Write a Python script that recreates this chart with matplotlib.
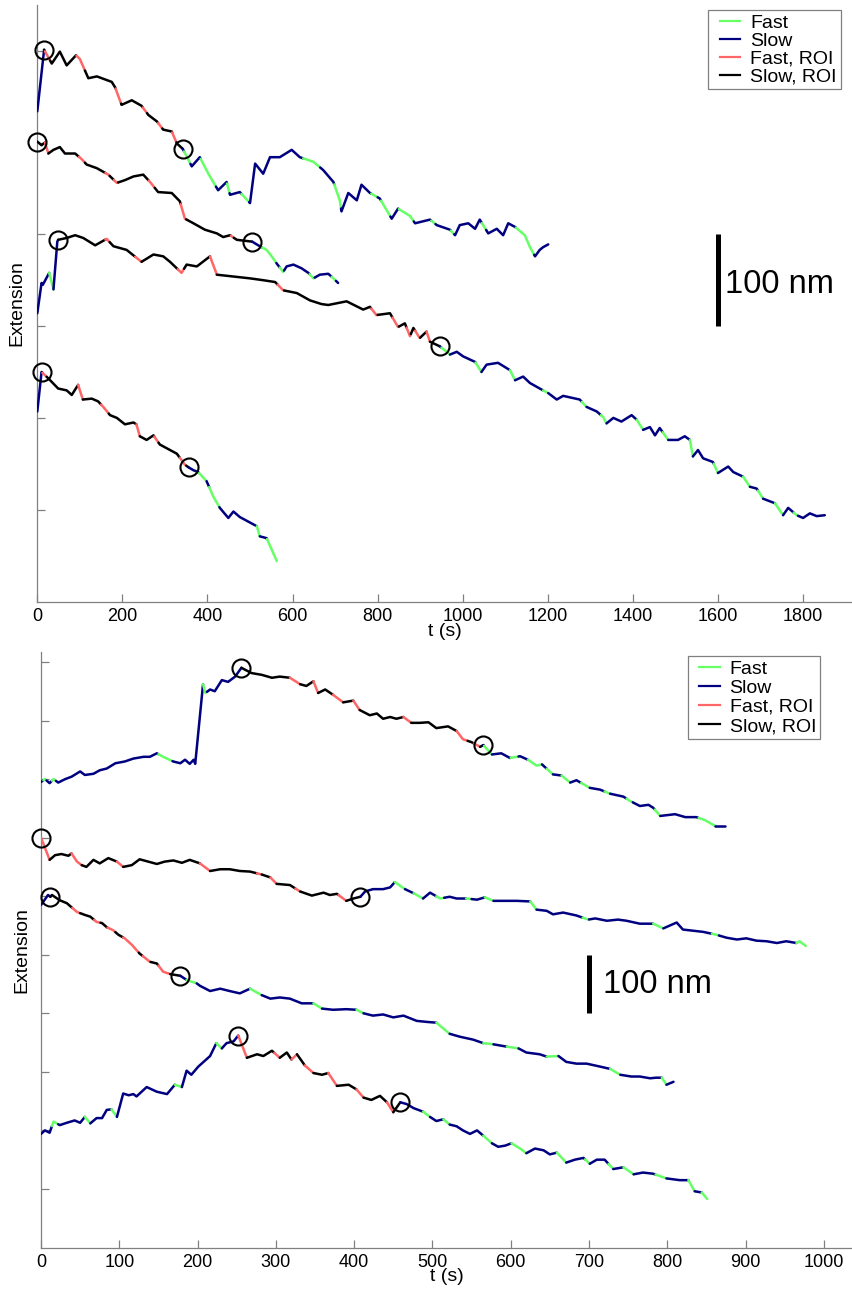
import numpy as np
import matplotlib
matplotlib.use('Agg')
import matplotlib.pyplot as plt
from matplotlib.lines import Line2D
from matplotlib.legend_handler import HandlerLine2D

plt.rcParams['font.family'] = ['Liberation Sans', 'DejaVu Sans']

# ---------------- colours / legend ----------------
CLASS_LABELS = ['Slow', 'Fast', 'Slow, ROI', 'Fast, ROI']
CLASS_COLORS = ['#000080', '#66FF66', '#000000', '#FF6666']
LEGEND_ORDER = ['Fast', 'Slow', 'Fast, ROI', 'Slow, ROI']

# ---------------- top panel data (t in s, extension in nm) ----------------
A_t = [0, 16, 34, 53, 69, 91, 100, 120, 140, 175, 183, 198, 222, 245, 261, 281, 296, 316, 328, 342,
       363, 382, 402, 425, 445, 453, 476, 500, 512, 531, 547, 570, 598, 617, 649, 672, 696, 711, 715, 731,
       751, 762, 782, 805, 833, 848, 876, 888, 923, 939, 970, 982, 993, 1013, 1029, 1040, 1060, 1080, 1095, 1107,
       1123, 1146, 1158, 1170, 1181, 1189, 1201]
A_v = [534, 601, 586, 599, 584, 595, 591, 570, 572, 566, 560, 541, 546, 540, 530, 523, 514, 512, 499, 493,
       474, 484, 466, 448, 457, 443, 446, 434, 477, 466, 484, 484, 492, 484, 479, 470, 457, 437, 425, 445,
       437, 454, 445, 439, 417, 428, 420, 412, 416, 410, 405, 399, 410, 412, 406, 416, 401, 406, 399, 412,
       408, 399, 386, 376, 383, 386, 389]
A_roi = (16, 342)
A_fast = [(18, 30), (92, 112), (184, 197), (248, 258), (284, 294), (317, 327), (345, 360), (384, 420),
          (446, 452), (480, 498), (625, 665), (698, 714), (785, 800), (808, 830), (850, 885), (926, 936),
          (972, 980), (1045, 1055), (1125, 1168)]

B_t = [0, 10, 18, 26, 38, 53, 65, 89, 104, 116, 140, 167, 187, 206, 226, 249, 265, 284, 316, 335,
       347, 367, 394, 422, 437, 453, 469, 505, 523, 539, 551, 563, 578, 586, 602, 621, 637, 649, 664, 684,
       696, 707]
B_v = [501, 497, 500, 488, 492, 495, 488, 488, 482, 476, 472, 465, 456, 459, 463, 465, 457, 446, 445, 436,
       417, 412, 405, 401, 397, 399, 394, 392, 387, 383, 376, 368, 359, 365, 367, 363, 358, 352, 356, 357,
       352, 347]
B_roi = (0, 505)
B_fast = [(18, 26), (98, 112), (160, 170), (180, 190), (262, 276), (337, 350), (455, 462), (528, 562),
          (570, 580), (640, 652), (692, 702)]

C_t = [0, 10, 13, 28, 38, 47, 49, 69, 89, 108, 136, 163, 179, 210, 245, 273, 296, 312, 339, 351,
       375, 406, 422, 461, 500, 531, 559, 578, 610, 641, 668, 684, 727, 766, 782, 797, 829, 848, 864, 876,
       884, 899, 915, 923, 946, 970, 986, 1001, 1029, 1044, 1056, 1083, 1111, 1123, 1142, 1158, 1181, 1201, 1221, 1236,
       1275, 1291, 1315, 1330, 1338, 1354, 1373, 1397, 1409, 1424, 1440, 1452, 1463, 1483, 1506, 1522, 1534, 1541, 1553, 1565,
       1588, 1600, 1624, 1636, 1659, 1675, 1691, 1706, 1734, 1753, 1765, 1785, 1800, 1816, 1832, 1851]
C_v = [314, 347, 345, 358, 340, 392, 394, 396, 399, 396, 388, 395, 387, 383, 370, 378, 376, 370, 358, 367,
       365, 376, 356, 354, 352, 350, 348, 339, 336, 328, 324, 323, 327, 318, 321, 312, 314, 299, 303, 289,
       298, 287, 294, 283, 278, 269, 272, 267, 261, 250, 258, 260, 252, 241, 245, 238, 232, 227, 220, 224,
       220, 212, 207, 201, 194, 200, 196, 203, 198, 187, 190, 181, 189, 176, 176, 180, 176, 158, 165, 156,
       152, 140, 147, 141, 136, 125, 123, 112, 107, 94, 102, 94, 91, 96, 93, 94]
C_roi = (49, 946)
C_fast = [(28, 38), (160, 170), (230, 245), (330, 345), (406, 422), (565, 580), (785, 800), (835, 850),
          (868, 878), (888, 900), (915, 923), (950, 970), (1030, 1044), (1111, 1123), (1189, 1201),
          (1280, 1291), (1325, 1338), (1409, 1424), (1470, 1483), (1534, 1541), (1590, 1600), (1659, 1675),
          (1694, 1706), (1734, 1753), (1778, 1788)]

D_t = [0, 10, 26, 49, 69, 81, 96, 107, 128, 143, 155, 171, 187, 206, 226, 233, 241, 257, 273, 288,
       312, 328, 347, 356, 367, 378, 398, 414, 429, 449, 461, 476, 500, 516, 523, 539, 563]
D_v = [207, 250, 243, 232, 230, 225, 236, 220, 221, 218, 212, 203, 200, 193, 195, 193, 180, 176, 181, 171,
       165, 161, 149, 146, 143, 141, 131, 114, 102, 91, 98, 92, 86, 82, 71, 69, 44]
D_roi = (11, 356)
D_fast = [(12, 22), (96, 107), (150, 168), (233, 241), (275, 285), (335, 350), (380, 398), (404, 428),
          (516, 523), (540, 563)]

# ---------------- bottom panel data ----------------
E_t = [0, 5, 11, 16, 22, 31, 39, 50, 56, 67, 75, 84, 95, 107, 118, 131, 139, 148, 156, 169,
       178, 184, 190, 195, 197, 207, 210, 216, 222, 231, 239, 248, 256, 269, 282, 295, 305, 318, 331, 339,
       348, 354, 363, 373, 386, 399, 407, 420, 429, 437, 446, 454, 463, 473, 484, 495, 505, 520, 531, 539,
       550, 561, 565, 576, 588, 599, 612, 622, 633, 640, 654, 665, 676, 684, 701, 714, 727, 744, 752, 765,
       776, 782, 791, 810, 823, 837, 848, 861, 874]
E_v = [795, 800, 793, 800, 794, 800, 804, 813, 807, 809, 815, 818, 827, 830, 835, 838, 838, 844, 838, 830,
       827, 833, 826, 833, 826, 962, 947, 953, 950, 969, 966, 975, 990, 981, 978, 973, 975, 973, 962, 959,
       967, 947, 953, 944, 931, 934, 918, 909, 912, 903, 906, 903, 906, 896, 896, 897, 887, 890, 882, 868,
       863, 855, 858, 842, 844, 836, 839, 833, 823, 825, 808, 806, 794, 798, 785, 782, 775, 770, 763, 754,
       756, 751, 737, 740, 735, 735, 730, 720, 720]
E_roi = (256, 565)
E_fast = [(3, 7), (14, 19), (150, 168), (207, 212), (318, 331), (348, 354), (373, 386), (399, 407),
          (463, 473), (531, 545), (553, 561), (566, 576), (600, 610), (622, 640), (646, 654), (665, 676),
          (690, 701), (720, 727), (748, 756), (784, 791), (840, 861)]

F_t = [0, 11, 18, 26, 35, 39, 46, 52, 58, 67, 75, 86, 97, 105, 116, 126, 137, 148, 158, 169,
       180, 190, 203, 216, 229, 241, 254, 267, 282, 293, 301, 318, 331, 346, 361, 369, 378, 390, 399, 408,
       414, 424, 437, 446, 452, 465, 476, 488, 497, 510, 522, 531, 544, 557, 567, 578, 599, 608, 625, 633,
       646, 654, 667, 684, 699, 708, 723, 737, 748, 765, 782, 795, 812, 820, 833, 846, 863, 876, 889, 901,
       914, 927, 940, 952, 965, 969, 977]
F_v = [700, 662, 670, 672, 669, 673, 659, 653, 650, 662, 656, 665, 659, 650, 653, 663, 659, 655, 659, 661,
       657, 662, 656, 643, 646, 646, 643, 642, 637, 632, 621, 619, 608, 601, 606, 602, 604, 592, 596, 599,
       608, 612, 612, 615, 624, 612, 605, 596, 606, 596, 599, 596, 596, 594, 598, 592, 592, 592, 591, 577,
       575, 569, 572, 567, 560, 562, 558, 560, 558, 553, 553, 545, 555, 543, 541, 539, 534, 529, 526, 528,
       524, 523, 520, 523, 520, 523, 515]
F_roi = (0, 408)
F_fast = [(0, 11), (39, 52), (97, 105), (203, 216), (276, 282), (293, 301), (325, 331), (380, 390),
          (452, 465), (476, 488), (505, 515), (543, 550), (567, 578), (625, 633), (692, 700), (782, 795),
          (857, 866), (965, 977)]

G_t = [0, 9, 12, 14, 24, 33, 46, 56, 63, 71, 78, 84, 92, 99, 107, 116, 126, 139, 148, 156,
       165, 178, 186, 199, 203, 216, 229, 241, 254, 267, 282, 293, 305, 318, 333, 348, 359, 373, 390, 403,
       412, 424, 437, 450, 463, 480, 495, 505, 522, 535, 552, 565, 578, 595, 610, 620, 637, 646, 661, 671,
       684, 697, 714, 727, 740, 754, 765, 778, 786, 793, 799, 808]
G_v = [585, 602, 599, 602, 593, 588, 573, 568, 565, 556, 554, 547, 542, 534, 528, 517, 502, 488, 485, 471,
       467, 464, 457, 451, 447, 438, 442, 438, 434, 442, 431, 425, 427, 425, 417, 417, 408, 406, 407, 406,
       400, 396, 398, 393, 396, 387, 385, 384, 365, 360, 355, 349, 347, 343, 340, 333, 330, 326, 327, 317,
       314, 314, 309, 305, 295, 292, 292, 289, 290, 290, 278, 283]
G_roi = (12, 178)
G_fast = [(40, 50), (68, 76), (85, 95), (105, 125), (130, 140), (150, 165), (186, 199), (267, 282),
          (348, 359), (403, 412), (505, 522), (565, 578), (595, 610), (646, 661), (727, 740), (793, 799)]

H_t = [0, 5, 11, 16, 24, 33, 43, 50, 56, 63, 71, 78, 84, 90, 97, 105, 112, 118, 122, 135,
       148, 161, 171, 180, 186, 192, 201, 216, 224, 231, 237, 246, 252, 263, 276, 284, 295, 305, 314, 320,
       327, 337, 348, 359, 367, 378, 393, 403, 412, 422, 433, 442, 450, 459, 467, 476, 488, 497, 505, 514,
       522, 531, 539, 548, 557, 565, 576, 584, 593, 601, 612, 620, 631, 642, 650, 659, 671, 682, 693, 701,
       710, 720, 731, 744, 757, 769, 782, 799, 816, 827, 835, 844, 851]
H_v = [194, 200, 196, 215, 209, 213, 217, 213, 223, 212, 221, 221, 235, 236, 223, 263, 260, 262, 258, 274,
       266, 262, 278, 274, 302, 295, 309, 327, 349, 340, 349, 352, 362, 324, 330, 327, 336, 324, 333, 321,
       330, 311, 298, 295, 298, 276, 278, 270, 256, 252, 259, 248, 231, 248, 245, 238, 232, 223, 216, 219,
       210, 207, 200, 194, 200, 191, 178, 172, 174, 178, 169, 161, 169, 166, 159, 162, 145, 150, 153, 143,
       150, 150, 134, 137, 125, 128, 126, 118, 115, 115, 96, 94, 83]
H_roi = (252, 459)
H_fast = [(14, 22), (56, 63), (90, 97), (171, 180), (224, 231), (252, 263), (298, 305), (320, 327),
          (337, 348), (367, 378), (403, 412), (442, 450), (488, 497), (514, 522), (565, 576), (601, 620),
          (659, 671), (695, 701), (725, 731), (744, 757), (785, 799), (827, 835), (844, 851)]

TOP_TRACES = [(A_t, A_v, A_roi, A_fast), (B_t, B_v, B_roi, B_fast),
              (C_t, C_v, C_roi, C_fast), (D_t, D_v, D_roi, D_fast)]
BOTTOM_TRACES = [(E_t, E_v, E_roi, E_fast), (F_t, F_v, F_roi, F_fast),
                 (G_t, G_v, G_roi, G_fast), (H_t, H_v, H_roi, H_fast)]

TOP_XTICKS = list(range(0, 1801, 200))
TOP_YTICKS = list(range(100, 601, 100))
BOT_XTICKS = list(range(0, 1001, 100))
BOT_YTICKS = list(range(100, 1001, 100))

SCALE_TOP = (1600, 300, 100)   # t, start extension, length (nm)
SCALE_BOT = (700, 400, 100)


def draw_trace(ax, t, v, roi, fast, lw=1.8):
    t = np.asarray(t, float)
    v = np.asarray(v, float)
    cuts = [roi[0], roi[1]] + [x for ab in fast for x in ab]
    cuts = [c for c in cuts if t[0] < c < t[-1]]
    tt = np.union1d(t, cuts)
    vv = np.interp(tt, t, v)
    mid = 0.5 * (tt[:-1] + tt[1:])
    is_fast = np.zeros(len(mid), bool)
    for a, b in fast:
        is_fast |= (mid >= a) & (mid <= b)
    in_roi = (mid >= roi[0]) & (mid <= roi[1])
    cls = 2 * in_roi.astype(int) + is_fast.astype(int)
    start = 0
    for i in range(1, len(cls) + 1):
        if i == len(cls) or cls[i] != cls[start]:
            ax.plot(tt[start:i + 1], vv[start:i + 1], color=CLASS_COLORS[cls[start]], lw=lw,
                    solid_joinstyle='round', solid_capstyle='round', zorder=3)
            start = i
    ax.plot(list(roi), np.interp(list(roi), t, v), 'o', ms=13, mfc='none', mec='k', mew=1.5,
            zorder=5, clip_on=False)


W, H = 852, 1295
fig = plt.figure(figsize=(W / 100, H / 100), dpi=100)


def px_axes(left, right, top, bottom):
    return fig.add_axes([left / W, 1 - bottom / H, (right - left) / W, (bottom - top) / H])


ax1 = px_axes(37.3, 852, 4.8, 601.5)
ax1.set_xlim(0, 1915)
ax1.set_ylim(0, 650)
ax2 = px_axes(41, 852, 652, 1247.5)
ax2.set_xlim(0, 1036)
ax2.set_ylim(0, 1017)

for ax, traces, xt, yt in ((ax1, TOP_TRACES, TOP_XTICKS, TOP_YTICKS),
                          (ax2, BOTTOM_TRACES, BOT_XTICKS, BOT_YTICKS)):
    for tr in traces:
        draw_trace(ax, *tr)
    for s in ('top', 'right'):
        ax.spines[s].set_visible(False)
    for s in ('left', 'bottom'):
        ax.spines[s].set_color('#808080')
        ax.spines[s].set_linewidth(0.9)
    ax.set_xticks(xt)
    ax.set_yticks(yt)
    ax.tick_params(direction='in', length=5.8, width=0.9, color='#808080', labelsize=13, pad=4.5)
    ax.tick_params(axis='y', labelleft=False)
    ax.set_xlabel('t (s)', fontsize=14)
    ax.set_ylabel('Extension', fontsize=14)
    ax.xaxis.label.set_verticalalignment('center')

ax1.xaxis.set_label_coords(0.5, -0.0511)
ax2.xaxis.set_label_coords(0.5, -0.0495)
ax1.yaxis.set_label_coords(-0.0152, 0.5)
ax2.yaxis.set_label_coords(-0.0137, 0.5)

# scale bars
for ax, (sx, sy, sl), tx, ty in ((ax1, SCALE_TOP, 1616, 335.7), (ax2, SCALE_BOT, 718, 434.6)):
    ax.plot([sx, sx], [sy, sy + sl], color='k', lw=3.6, solid_capstyle='butt', zorder=4)
    ax.text(tx, ty, '%d nm' % sl, fontsize=23.5, ha='left', va='baseline')

# legends
handles = {lab: Line2D([], [], color=c, lw=1.6) for lab, c in zip(CLASS_LABELS, CLASS_COLORS)}
handler = HandlerLine2D(numpoints=2, marker_pad=0.4)
for ax, (rx, ry), lsp in ((ax1, (840.7, 10), 0.02), (ax2, (820, 656), 0.08)):
    leg = ax.legend([handles[l] for l in LEGEND_ORDER], LEGEND_ORDER, loc='upper right',
                    bbox_to_anchor=(rx / W, 1 - ry / H), bbox_transform=fig.transFigure,
                    fontsize=14, frameon=True, fancybox=False, edgecolor='#808080', framealpha=1,
                    borderpad=0.2, handlelength=1.84, handletextpad=0.12, labelspacing=lsp,
                    borderaxespad=0, handler_map={Line2D: handler})
    leg.get_frame().set_linewidth(0.9)

fig.savefig('out.png', dpi=100)
